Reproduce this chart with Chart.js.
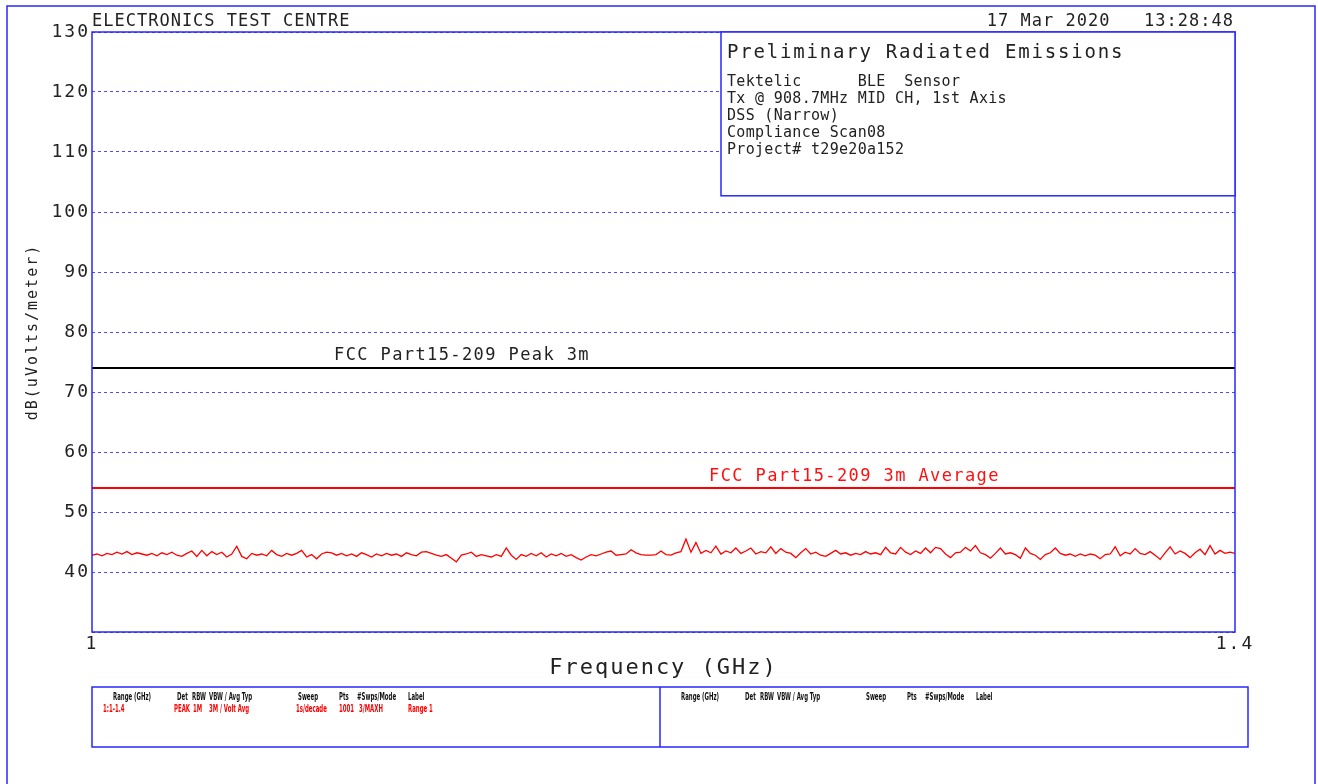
<!DOCTYPE html>
<html>
<head>
<meta charset="utf-8">
<title>Preliminary Radiated Emissions</title>
<script src="https://cdn.jsdelivr.net/npm/chart.js@4/dist/chart.umd.min.js"></script>
<style>
    html, body { margin: 0; padding: 0; background: #fff; }
    canvas { display: block; }
</style>
</head>
<body>
<canvas id="chart" width="1318" height="784"></canvas>
<script>
// sweep range in GHz
const startFreq = 1.0;
const stopFreq = 1.4;
const xTickValues = [1.0, 1.4];

const traceLevels = [
    42.8, 43.0, 42.7, 43.1, 42.9, 43.3, 43.0, 43.4, 42.9, 43.2,
    43.0, 42.8, 43.1, 42.7, 43.2, 42.9, 43.3, 42.8, 42.6, 43.1,
    43.5, 42.6, 43.6, 42.7, 43.4, 42.9, 43.3, 42.5, 43.0, 44.3,
    42.6, 42.2, 43.1, 42.8, 43.0, 42.7, 43.6, 42.9, 42.6, 43.1,
    42.8, 43.1, 43.6, 42.5, 42.9, 42.2, 43.0, 43.3, 43.2, 42.8,
    43.1, 42.7, 43.0, 42.6, 43.2, 42.9, 42.5, 43.0, 42.7, 43.1,
    42.8, 43.0, 42.6, 43.2, 42.9, 42.7, 43.3, 43.4, 43.1, 42.8,
    42.6, 42.9, 42.3, 41.7, 42.8, 43.0, 43.3, 42.6, 42.9, 42.7,
    42.5, 42.9, 42.6, 44.0, 42.8, 42.1, 42.9, 42.6, 43.1, 42.7,
    43.2, 42.5, 43.0, 42.7, 43.1, 42.6, 42.9, 42.4, 42.0, 42.5,
    42.9, 42.7, 43.0, 43.3, 43.5, 42.8, 42.9, 43.0, 43.7, 43.2,
    42.9, 42.8, 42.8, 42.9, 43.5, 42.9, 42.8, 43.2, 43.4, 45.5,
    43.3, 44.9, 43.1, 43.6, 43.2, 44.3, 43.0, 43.5, 43.2, 44.0,
    43.1, 43.5, 44.0, 43.0, 43.4, 43.2, 44.2, 43.1, 43.9, 43.3,
    43.1, 42.4, 43.2, 43.9, 43.0, 43.3, 42.8, 42.6, 43.1, 43.6,
    43.0, 43.2, 42.8, 43.1, 42.9, 43.4, 43.0, 43.2, 42.9, 44.1,
    43.2, 43.0, 44.1, 43.3, 42.9, 43.5, 43.1, 44.0, 43.2, 44.1,
    43.9, 43.0, 42.4, 43.2, 43.3, 44.1, 43.5, 44.4, 43.2, 42.9,
    42.3, 43.1, 44.0, 43.0, 43.2, 42.9, 42.3, 44.0, 43.1, 42.8,
    42.1, 42.9, 43.2, 44.0, 43.1, 42.8, 43.0, 42.6, 43.0, 42.7,
    43.0, 42.8, 42.2, 42.9, 43.0, 44.2, 42.7, 43.3, 43.0, 43.9,
    43.1, 42.9, 43.4, 42.8, 42.1, 43.2, 44.2, 43.0, 43.5, 43.1,
    42.4, 43.2, 43.8, 42.9, 44.4, 43.0, 43.6, 43.1, 43.3, 43.1
];

// limit lines
const limitFreqs = [1.0, 1.4];
const peakLimit = [74, 74];
const avgLimit = [54, 54];

const BLUE = '#2727ff';
const GRID = '#4b4bff';
const INK = '#222';
const MONO = '"DejaVu Sans Mono", monospace';
const NARROW = '"Liberation Sans Narrow", "DejaVu Sans Condensed", sans-serif';

// even sweep points between start and stop
const step = (stopFreq - startFreq) / (traceLevels.length - 1);
const tracePoints = traceLevels.map((v, i) => ({ x: startFreq + i * step, y: v }));
const peakPoints = limitFreqs.map((f, i) => ({ x: f, y: peakLimit[i] }));
const avgPoints = limitFreqs.map((f, i) => ({ x: f, y: avgLimit[i] }));

function text(ctx, str, x, y, font, color, spacing, align) {
    ctx.font = font;
    ctx.fillStyle = color;
    ctx.letterSpacing = spacing + 'px';
    ctx.textAlign = align || 'left';
    ctx.textBaseline = 'alphabetic';
    ctx.fillText(str, x, y);
}

// squeezed text for the little settings table
function smallText(ctx, str, x, y, color) {
    ctx.save();
    ctx.translate(x, y);
    ctx.scale(0.6, 1);
    text(ctx, str, 0, 0, 'bold 10px ' + NARROW, color, 0);
    ctx.restore();
}

const tableHead = [
    ['Range (GHz)', 21], ['Det', 85], ['RBW', 100], ['VBW / Avg Typ', 117],
    ['Sweep', 206], ['Pts', 247], ['#Swps/Mode', 265], ['Label', 316]
];
const tableRow = [
    ['1:1-1.4', 11], ['PEAK', 82], ['1M', 101], ['3M / Volt Avg', 117],
    ['1s/decade', 204], ['1001', 247], ['3/MAXH', 267], ['Range 1', 316]
];

const sheet = {
    id: 'sheet',
    beforeDraw(chart) {
        chart.ctx.letterSpacing = '2px';
    },
    afterDraw(chart) {
        const { ctx, chartArea: a, scales: { y } } = chart;
        ctx.save();
        ctx.strokeStyle = BLUE;
        ctx.lineWidth = 1.5;
        ctx.setLineDash([]);

        // page border, runs off the bottom of the page
        ctx.strokeRect(7, 6, 1308, 820);
        // plot frame
        ctx.strokeRect(a.left, a.top, a.right - a.left, a.bottom - a.top);

        // info box
        const boxL = a.right - 514;
        const boxB = y.getPixelForValue(102.7);
        ctx.fillStyle = '#fff';
        ctx.fillRect(boxL, a.top, a.right - boxL, boxB - a.top);
        ctx.strokeRect(boxL, a.top, a.right - boxL, boxB - a.top);

        // header
        text(ctx, 'ELECTRONICS TEST CENTRE', a.left, 26, '17px ' + MONO, INK, 1);
        text(ctx, '17 Mar 2020   13:28:48', 1234, 26, '17px ' + MONO, INK, 1, 'right');

        text(ctx, 'Preliminary Radiated Emissions', boxL + 6, 58, '19px ' + MONO, INK, 1.8);
        const info = [
            'Tektelic      BLE  Sensor',
            'Tx @ 908.7MHz MID CH, 1st Axis',
            'DSS (Narrow)',
            'Compliance Scan08',
            'Project# t29e20a152'
        ];
        info.forEach((s, i) => text(ctx, s, boxL + 6, 86 + i * 17, '15px ' + MONO, INK, 0.3));

        // limit labels
        text(ctx, 'FCC Part15-209 Peak 3m', a.left + 242, y.getPixelForValue(74) - 8, '17px ' + MONO, INK, 1.4);
        text(ctx, 'FCC Part15-209 3m Average', a.left + 617, y.getPixelForValue(54) - 7, '17px ' + MONO, '#ff1010', 1.4);

        // settings table
        ctx.strokeStyle = BLUE;
        ctx.strokeRect(92, 687, 1248 - 92, 60);
        ctx.beginPath();
        ctx.moveTo(660, 687);
        ctx.lineTo(660, 747);
        ctx.stroke();
        tableHead.forEach(([s, dx]) => {
            smallText(ctx, s, 92 + dx, 700, '#111');
            smallText(ctx, s, 660 + dx, 700, '#111');
        });
        tableRow.forEach(([s, dx]) => smallText(ctx, s, 92 + dx, 712, '#ff0000'));

        ctx.restore();
    }
};

const ctx = document.getElementById('chart').getContext('2d');

new Chart(ctx, {
    type: 'line',
    data: {
        datasets: [
            {
                label: 'Trace',
                data: tracePoints,
                borderColor: '#ff0000',
                borderWidth: 1.3,
                pointRadius: 0,
                tension: 0
            },
            {
                label: 'FCC Part15-209 Peak 3m',
                data: peakPoints,
                borderColor: '#000',
                borderWidth: 2,
                pointRadius: 0
            },
            {
                label: 'FCC Part15-209 3m Average',
                data: avgPoints,
                borderColor: '#ff0000',
                borderWidth: 2,
                pointRadius: 0
            }
        ]
    },
    options: {
        responsive: false,
        animation: false,
        layout: {
            padding: { left: 8, top: 32, right: 83, bottom: 100 }
        },
        plugins: {
            legend: { display: false },
            tooltip: { enabled: false }
        },
        scales: {
            x: {
                type: 'linear',
                min: startFreq,
                max: stopFreq,
                afterBuildTicks: s => { s.ticks = xTickValues.map(v => ({ value: v })); },
                afterFit: s => { s.height = 52; },
                grid: { display: false, drawTicks: false },
                border: { display: false },
                ticks: {
                    color: INK,
                    font: { family: MONO, size: 18 },
                    padding: 2,
                    maxRotation: 0,
                    callback: v => String(v)
                },
                title: {
                    display: true,
                    text: 'Frequency (GHz)',
                    color: INK,
                    font: { family: MONO, size: 22 },
                    padding: { top: 0, bottom: 3 }
                }
            },
            y: {
                min: 30,
                max: 130,
                afterFit: s => { s.width = 84; },
                grid: { color: GRID, lineWidth: 1, drawTicks: false },
                border: { display: false, dash: [3, 3] },
                ticks: {
                    stepSize: 10,
                    color: INK,
                    font: { family: MONO, size: 18 },
                    padding: 2,
                    callback: v => (v === 30 ? '' : v)
                },
                title: {
                    display: true,
                    text: 'dB(uVolts/meter)',
                    color: INK,
                    font: { family: MONO, size: 15 },
                    padding: { top: 16, bottom: 0 }
                }
            }
        }
    },
    plugins: [sheet]
});
</script>
</body>
</html>
